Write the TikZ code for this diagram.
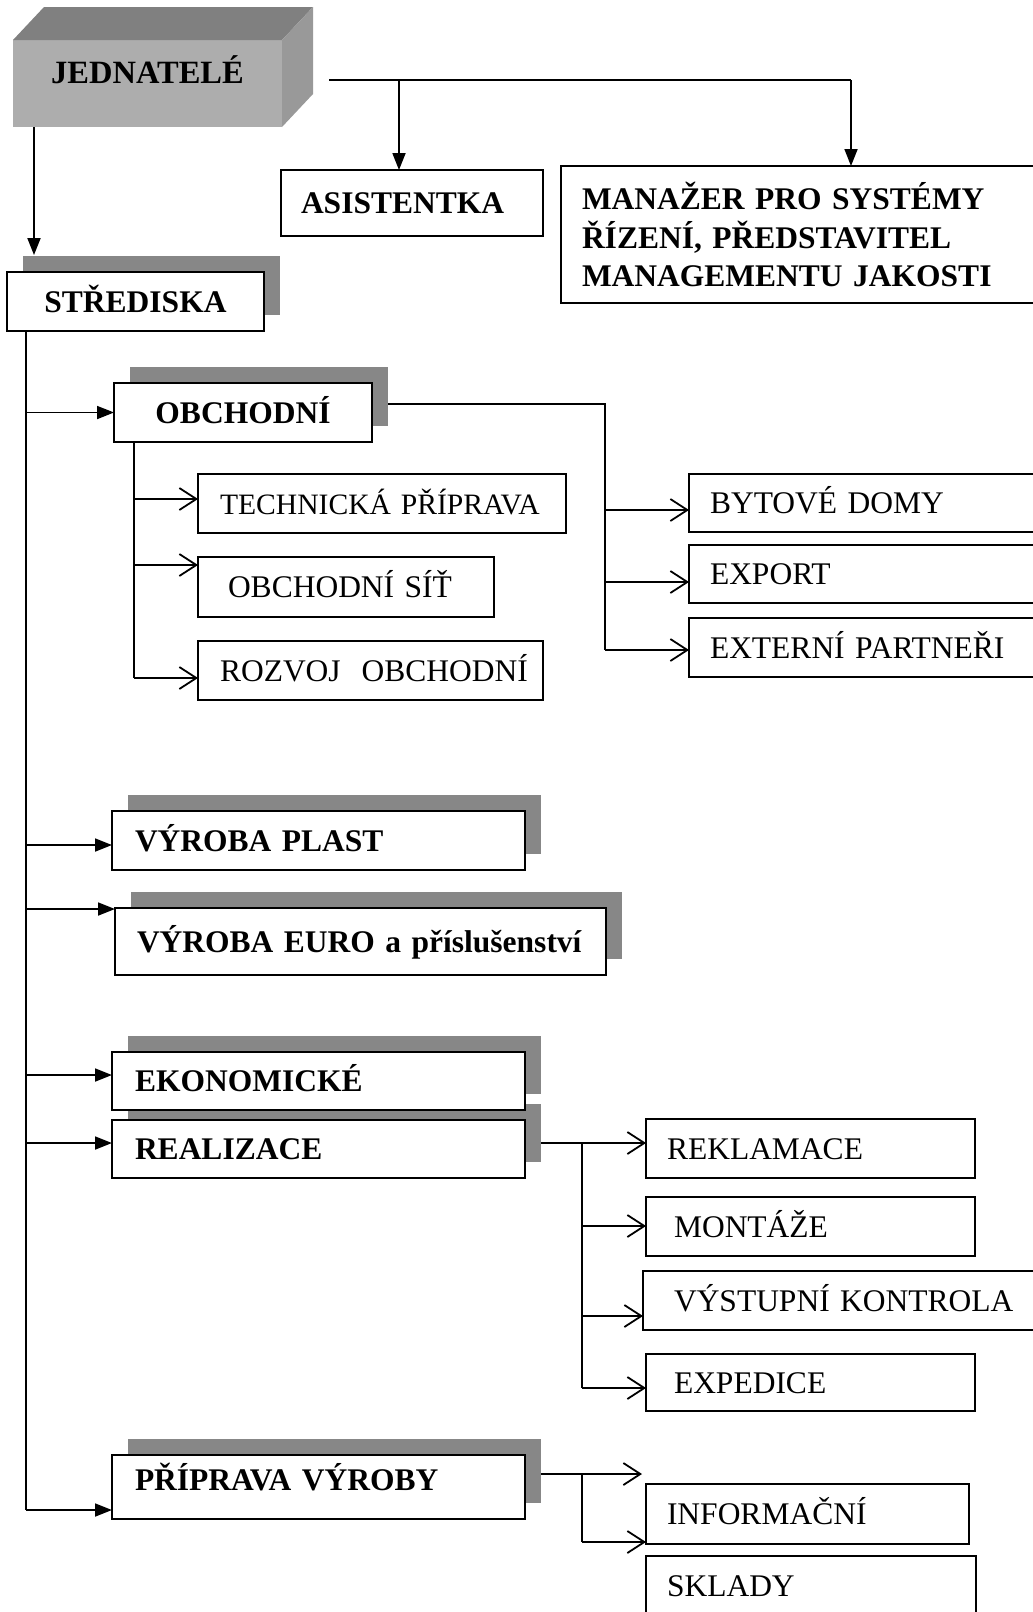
\documentclass[tikz,border=0pt]{standalone}
\usepackage{fontspec}
\setmainfont{Liberation Serif}
\usetikzlibrary{arrows.meta,calc,shadows}

\begin{document}
\begin{tikzpicture}[x=1pt,y=-1pt,
  box/.style={draw=black, line width=1.8pt, fill=white, inner ysep=0pt, outer sep=0pt,
    anchor=north west, align=left, font=\fontsize{31.5}{38.5}\selectfont},
  bbox/.style={box, font=\fontsize{31.5}{38.5}\selectfont\bfseries},
  caps/.style={text height=21pt, text depth=0pt},
  shade/.style={drop shadow={shadow xshift=16pt, shadow yshift=16pt, opacity=1, fill=black!47}},
  link/.style={line width=1.8pt},
  trunkline/.style={line width=2.6pt},
  solid arrow/.style={link, -{Triangle[length=17pt,width=13pt]}},
  open arrow/.style={link, -{Straight Barb[length=17pt,width=22pt]}},
  jedface/.style={fill=black!32, inner sep=0pt, outer sep=0pt},
  jedtop/.style={fill=black!50},
  jedside/.style={fill=black!40},
]
\useasboundingbox (0,0) rectangle (1033,1612);
\fill[white] (0,0) rectangle (1033,1612);

% ---- management block (3D box) ----
\node[jedface, minimum width=269pt, minimum height=87pt, anchor=north west] (jed) at (13,40) {};
\fill[jedtop] (jed.north west) -- ++(31,-33) -- ($(jed.north east)+(31,-33)$) -- (jed.north east) -- cycle;
\fill[jedside] (jed.north east) -- ++(31,-33) -- ($(jed.south east)+(31,-33)$) -- (jed.south east) -- cycle;
\node[font=\fontsize{32.5}{39}\selectfont\bfseries] (jedlabel) at ($(jed.center)+(0,-14)$) {JEDNATELÉ};

% ---- staff positions ----
\node[bbox, caps, inner xsep=20pt, text width=222pt, minimum height=66pt] (asist) at (281,170) {ASISTENTKA};
\node[bbox, inner xsep=21pt, text width=442pt, minimum height=137pt] (man) at (561,166)
  {MANAŽER PRO SYSTÉMY\\ŘÍZENÍ, PŘEDSTAVITEL\\MANAGEMENTU JAKOSTI};

\coordinate (jout) at (329,80);
\coordinate (jmid) at (399,80);
\coordinate (jbend) at (851,80);
\draw[link] (jout) -- (jbend);
\draw[solid arrow] (jmid) -- (jmid |- asist.north);
\draw[solid arrow] (jbend) -- (jbend |- man.north);

% ---- centres ----
\node[bbox, caps, shade, inner xsep=0pt, text width=257pt, align=center, minimum height=59pt] (stred) at (7,272) {STŘEDISKA};
\draw[solid arrow] (jed.south -| 34,0) -- ($(stred.north west)+(27,-17)$);

\coordinate (trunk) at (26,0);
\draw[trunkline] (stred.south -| trunk) -- (trunk |- 0,1510);

% order matters: later shadows lie over earlier boxes
\node[bbox, caps, shade, inner xsep=0pt, text width=258pt, align=center, minimum height=59pt] (obch) at (114,383) {OBCHODNÍ};
\node[bbox, caps, shade, inner xsep=23pt, text width=367pt, minimum height=59pt] (plast) at (112,811) {VÝROBA PLAST};
\node[bbox, caps, shade, inner xsep=22pt, text width=447pt, minimum height=67pt] (euro) at (115,908) {VÝROBA EURO a příslušenství};
\node[bbox, caps, shade, inner xsep=23pt, text width=367pt, minimum height=58pt] (real) at (112,1120) {REALIZACE};
\node[bbox, caps, shade, inner xsep=23pt, text width=367pt, minimum height=58pt] (eko) at (112,1052) {EKONOMICKÉ};
\node[bbox, shade, inner xsep=23pt, text width=367pt, minimum height=64pt, text height=21pt, text depth=14pt] (prip) at (112,1455) {PŘÍPRAVA VÝROBY};

\draw[solid arrow] (trunk |- obch.west) -- (obch.west);
\draw[solid arrow] (trunk |- 0,845) -- (plast.west |- 0,845);
\draw[solid arrow] (trunk |- 0,909) -- (euro.west |- 0,909);
\draw[solid arrow] (trunk |- 0,1075) -- (eko.west |- 0,1075);
\draw[solid arrow] (trunk |- 0,1143) -- (real.west |- 0,1143);
\draw[solid arrow] (trunk |- 0,1510) -- (prip.west |- 0,1510);

% ---- sales departments ----
\node[box, caps, inner xsep=22pt, text width=324pt, minimum height=59pt, font=\fontsize{29.6}{35}\selectfont] (tech) at (198,474) {\mbox{TECHNICKÁ PŘÍPRAVA}};
\node[box, caps, inner xsep=30pt, text width=236pt, minimum height=60pt] (sit) at (198,557) {\mbox{OBCHODNÍ SÍŤ}};
\node[box, caps, inner xsep=22pt, text width=301pt, minimum height=59pt] (rozvoj) at (198,641) {\mbox{ROZVOJ~~OBCHODNÍ}};

\coordinate (obdown) at (134,0);
\draw[link] (obdown |- obch.south) -- (obdown |- 0,678);
\draw[open arrow] (obdown |- 0,499) -- (tech.west |- 0,499);
\draw[open arrow] (obdown |- 0,565) -- (sit.west |- 0,565);
\draw[open arrow] (obdown |- 0,678) -- (rozvoj.west |- 0,678);

\node[box, caps, inner xsep=21pt, text width=358pt, minimum height=58pt] (byt) at (689,474) {BYTOVÉ DOMY};
\node[box, caps, inner xsep=21pt, text width=358pt, minimum height=58pt] (export) at (689,545) {EXPORT};
\node[box, caps, inner xsep=21pt, text width=358pt, minimum height=59pt] (extern) at (689,618) {EXTERNÍ PARTNEŘI};

\coordinate (obright) at (605,404);
\draw[link] ($(obch.east |- obright)+(16,0)$) -- (obright) -- (obright |- 0,650);
\draw[open arrow] (obright |- 0,510) -- (byt.west |- 0,510);
\draw[open arrow] (obright |- 0,582) -- (export.west |- 0,582);
\draw[open arrow] (obright |- 0,650) -- (extern.west |- 0,650);

% ---- realisation departments ----
\node[box, caps, inner xsep=21pt, text width=287pt, minimum height=59pt] (rekl) at (646,1119) {REKLAMACE};
\node[box, caps, inner xsep=28pt, text width=273pt, minimum height=59pt] (mont) at (646,1197) {MONTÁŽE};
\node[box, caps, inner xsep=31pt, text width=388pt, minimum height=59pt] (vyst) at (643,1271) {\mbox{VÝSTUPNÍ KONTROLA}};
\node[box, caps, inner xsep=28pt, text width=273pt, minimum height=57pt] (exped) at (646,1354) {EXPEDICE};

\coordinate (realsplit) at (582,1143);
\draw[open arrow] ($(real.east |- realsplit)+(16,0)$) -- (rekl.west |- realsplit);
\draw[link] (realsplit) -- (realsplit |- 0,1388);
\draw[open arrow] (realsplit |- 0,1226) -- (mont.west |- 0,1226);
\draw[open arrow] (realsplit |- 0,1316) -- (vyst.west |- 0,1316);
\draw[open arrow] (realsplit |- 0,1388) -- (exped.west |- 0,1388);

% ---- production planning departments ----
\node[box, caps, inner xsep=21pt, text width=281pt, minimum height=60pt] (info) at (646,1484) {INFORMAČNÍ};
\node[box, caps, inner xsep=21pt, text width=288pt, minimum height=60pt] (sklady) at (646,1556) {SKLADY};

\coordinate (pripsplit) at (582,1474);
\coordinate (pripend) at (642,1474);
\draw[open arrow] ($(prip.east |- pripsplit)+(16,0)$) -- (pripend);
\draw[link] (pripsplit) -- (pripsplit |- 0,1542);
\draw[open arrow] (pripsplit |- 0,1542) -- (info.west |- 0,1542);
\end{tikzpicture}
\end{document}
